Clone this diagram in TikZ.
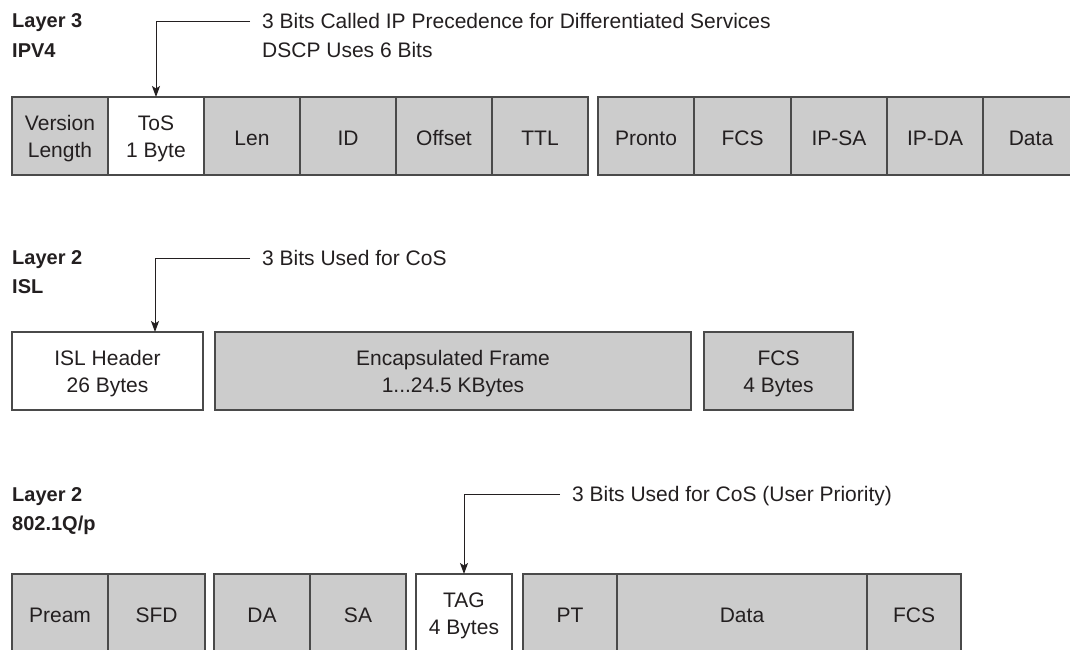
\documentclass[tikz,border=0pt]{standalone}
\usepackage{fontspec}
\setmainfont{Liberation Sans}
\usetikzlibrary{arrows.meta}
\definecolor{ink}{HTML}{231F20}
\definecolor{boxfill}{HTML}{CCCCCC}
\definecolor{edge}{HTML}{4A4A4A}
\begin{document}
\begin{tikzpicture}[x=1pt,y=-1pt,
  field/.style={draw=edge, line width=1.4pt, fill=boxfill, anchor=north west,
    inner sep=0pt, outer sep=0pt, minimum height=78pt, text=ink,
    font=\fontsize{21}{27}\selectfont, align=center},
  wfield/.style={field, fill=white},
  lbl/.style={yshift=-2.5pt},
  layer/.style={anchor=base west, inner sep=0pt, font=\bfseries\fontsize{20}{24}\selectfont, text=ink},
  note/.style={anchor=base west, inner sep=0pt, font=\fontsize{21}{24}\selectfont, text=ink},
  pointer/.style={draw=ink, line width=1pt, -{Stealth[length=11pt,width=8pt,inset=2.5pt]}}
]
\path[use as bounding box] (0,0) rectangle (1070,650);

% ---------------- Layer 3 IPv4 ----------------
\node[layer] (l3a) at (12,28) {Layer 3};
\node[layer] (l3b) at (12,57.5) {IPV4};
\node[note] (n1a) at (262,28.5) {3 Bits Called IP Precedence for Differentiated Services};
\node[note] (n1b) at (262,58) {DSCP Uses 6 Bits};

\node[field,  minimum width=96pt] (ver)  at (12,97)  {};
\node[wfield, minimum width=96pt] (tos)  at (108,97) {};
\node[field,  minimum width=96pt] (len)  at (204,97) {};
\node[field,  minimum width=96pt] (id)   at (300,97) {};
\node[field,  minimum width=96pt] (off)  at (396,97) {};
\node[field,  minimum width=96pt] (ttl)  at (492,97) {};
\node[field,  minimum width=96pt] (pro)  at (598,97) {};
\node[field,  minimum width=97pt] (fcsa) at (694,97) {};
\node[field,  minimum width=96pt] (ipsa) at (791,97) {};
\node[field,  minimum width=96pt] (ipda) at (887,97) {};
\node[field,  minimum width=96pt] (data) at (983,97) {};
\foreach \n/\t in {ver/{Version\\Length}, tos/{ToS\\1 Byte}, len/Len, id/ID, off/Offset,
                   ttl/TTL, pro/Pronto, fcsa/FCS, ipsa/IP-SA, ipda/IP-DA, data/Data}
  \node[text=ink, font=\fontsize{21}{27}\selectfont, align=center, lbl] at (\n.center) {\t};

\coordinate (e1) at (250,21.5);
\draw[pointer] (e1) -| (tos.north);

% ---------------- Layer 2 ISL ----------------
\node[layer] (l2a) at (12,264.5) {Layer 2};
\node[layer] (l2b) at (12,293.5) {ISL};
\node[note] (n2) at (262,265) {3 Bits Used for CoS};

\node[wfield, minimum width=191pt] (islh) at (12,332)  {};
\node[field,  minimum width=476pt] (enc)  at (215,332) {};
\node[field,  minimum width=149pt] (fcsb) at (704,332) {};
\foreach \n/\t in {islh/{ISL Header\\26 Bytes}, enc/{Encapsulated Frame\\1...24.5 KBytes}, fcsb/{FCS\\4 Bytes}}
  \node[text=ink, font=\fontsize{21}{27}\selectfont, align=center, lbl] at (\n.center) {\t};

\coordinate (e2) at (250,258);
\draw[pointer] (e2) -| ([xshift=143pt]islh.north west);

% ---------------- Layer 2 802.1Q/p ----------------
\node[layer] (l1a) at (12,501) {Layer 2};
\node[layer] (l1b) at (12,530) {802.1Q/p};
\node[note] (n3) at (572,501.5) {3 Bits Used for CoS (User Priority)};

\node[field,  minimum width=96pt]  (pre)  at (12,574)  {};
\node[field,  minimum width=97pt]  (sfd)  at (108,574) {};
\node[field,  minimum width=96pt]  (da)   at (214,574) {};
\node[field,  minimum width=96pt]  (sa)   at (310,574) {};
\node[wfield, minimum width=96pt]  (tag)  at (416,574) {};
\node[field,  minimum width=94pt]  (pt)   at (523,574) {};
\node[field,  minimum width=250pt] (datb) at (617,574) {};
\node[field,  minimum width=94pt]  (fcsc) at (867,574) {};
\foreach \n/\t in {pre/Pream, sfd/SFD, da/DA, sa/SA, tag/{TAG\\4 Bytes}, pt/PT, datb/Data, fcsc/FCS}
  \node[text=ink, font=\fontsize{21}{27}\selectfont, align=center, lbl] at (\n.center) {\t};

\coordinate (e3) at (560,494.5);
\draw[pointer] (e3) -| (tag.north);
\end{tikzpicture}
\end{document}
